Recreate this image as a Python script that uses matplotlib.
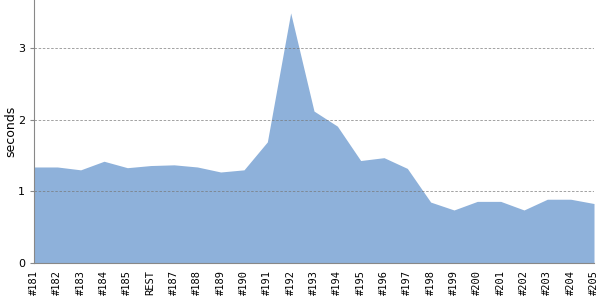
import matplotlib
matplotlib.use("Agg")
import matplotlib.pyplot as plt

labels = ["#181", "#182", "#183", "#184", "#185", "REST", "#187", "#188", "#189",
          "#190", "#191", "#192", "#193", "#194", "#195", "#196", "#197", "#198",
          "#199", "#200", "#201", "#202", "#203", "#204", "#205"]
seconds = [1.34, 1.34, 1.30, 1.42, 1.33, 1.36, 1.37, 1.34, 1.27,
           1.30, 1.69, 3.49, 2.12, 1.91, 1.43, 1.47, 1.32, 0.85,
           0.74, 0.86, 0.86, 0.74, 0.89, 0.89, 0.83]

x = range(len(labels))

fig = plt.figure(figsize=(6, 3), dpi=100)
ax = fig.add_axes([0.0567, 0.1233, 0.9333, 0.8767])

ax.fill_between(x, seconds, 0, color="#8eb1da", linewidth=0, zorder=1)

# dashed grid drawn over the area
ax.set_axisbelow(False)
ax.yaxis.grid(True, linestyle=(0, (3, 2)), color="#777777", linewidth=0.6, alpha=0.8, zorder=2)

ax.set_xlim(0, len(labels) - 1)
ax.set_ylim(0, 3.67)
ax.set_yticks([0, 1, 2, 3])
ax.set_xticks(list(x))
ax.set_xticklabels(labels, rotation=90, fontsize=7.5, family="DejaVu Sans Mono")
ax.tick_params(axis="x", length=0, pad=5)
ax.tick_params(axis="y", length=3, labelsize=8, color="#888888")
ax.set_ylabel("seconds", fontsize=9)
ax.yaxis.set_label_coords(-0.029, 0.5)

for side in ["top", "right"]:
    ax.spines[side].set_visible(False)
ax.spines["left"].set_color("#888888")
ax.spines["bottom"].set_color("#888888")

fig.savefig("out.png", dpi=100)
